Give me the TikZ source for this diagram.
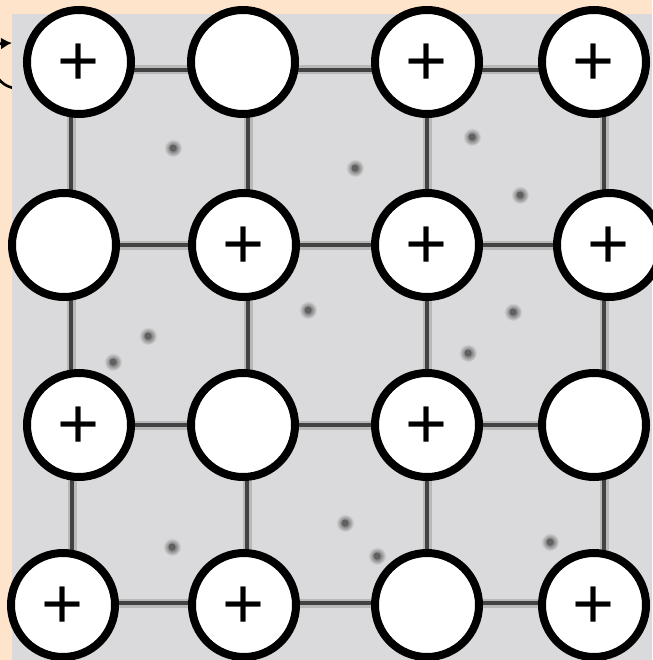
\documentclass[tikz,border=0pt]{standalone}
\usepackage{fontspec}
\newfontfamily\plusfont{Liberation Sans}
\usetikzlibrary{arrows.meta}
\definecolor{peach}{HTML}{FFE4CC}
\definecolor{photo}{HTML}{DADADC}
\pgfdeclarelayer{bg}
\pgfdeclarelayer{lines}
\pgfsetlayers{bg,lines,main}
\newcommand\ionplus{{\plusfont\fontsize{72pt}{72pt}\selectfont\smash{\raisebox{-0.329em}{+}}}}
\begin{document}
\begin{tikzpicture}[x=1pt,y=-1pt,
  site/.style={circle,draw=black,line width=8pt,fill=white,minimum size=104pt,inner sep=0pt},
  gridline/.style={line width=3.5pt,draw=black!74,preaction={draw=black!28,line width=9pt}},
  blob/.style={inner color=black!70,outer color=photo}]
\useasboundingbox (0,0) rectangle (652,660);
% sites
\node[site] (n11) at (79,62)  {\ionplus};
\node[site] (n12) at (243,62) {};
\node[site] (n13) at (427,62) {\ionplus};
\node[site] (n14) at (594,62) {\ionplus};
\node[site] (n21) at (64,245)  {};
\node[site] (n22) at (244,245) {\ionplus};
\node[site] (n23) at (427,245) {\ionplus};
\node[site] (n24) at (609,245) {\ionplus};
\node[site] (n31) at (79,425)  {\ionplus};
\node[site] (n32) at (243,425) {};
\node[site] (n33) at (427,425) {\ionplus};
\node[site] (n34) at (594,425) {};
\node[site] (n41) at (63,605)  {\ionplus};
\node[site] (n42) at (244,605) {\ionplus};
\node[site] (n43) at (427,605) {};
\node[site] (n44) at (594,605) {\ionplus};
\begin{pgfonlayer}{bg}
  \fill[peach] (0,0) rectangle (652,660);
  \draw[line width=2.6pt,-{Latex[length=11pt,width=12pt]}]
    (13,88) .. controls (-13,82) and (-12,44) .. (12,43);
  \fill[photo] (12,14) rectangle (652,660);
  \foreach \x/\y in {173/148,355/168,472/137,520/195,148/336,113/362,308/310,
                     513/312,468/353,345/523,172/547,377/556,550/542}
    {\shade[blob] (\x,\y) circle[radius=9pt];
     \fill[black!62] (\x,\y) circle[radius=3.5pt];}
\end{pgfonlayer}
\begin{pgfonlayer}{lines}
  % horizontal connectors
  \draw[gridline] ([yshift=-8pt]n11.center) -- ([yshift=-8pt]n12.center);
  \draw[gridline] ([yshift=-8pt]n12.center) -- ([yshift=-8pt]n13.center);
  \draw[gridline] ([yshift=-8pt]n13.center) -- ([yshift=-8pt]n14.center);
  \draw[gridline] (n21) -- (n22);
  \draw[gridline] (n22) -- (n23);
  \draw[gridline] (n23) -- (n24);
  \draw[gridline] (n31) -- (n32);
  \draw[gridline] (n32) -- (n33);
  \draw[gridline] (n33) -- (n34);
  \draw[gridline] ([yshift=2pt]n41.center) -- ([yshift=2pt]n42.center);
  \draw[gridline] ([yshift=2pt]n42.center) -- ([yshift=2pt]n43.center);
  \draw[gridline] ([yshift=2pt]n43.center) -- ([yshift=2pt]n44.center);
  % vertical connectors
  \draw[gridline] ([xshift=-8pt]n11.center) -- ([xshift=7pt]n21.center);
  \draw[gridline] ([xshift=7pt]n21.center) -- ([xshift=-8pt]n31.center);
  \draw[gridline] ([xshift=-7pt]n31.center) -- ([xshift=9pt]n41.center);
  \draw[gridline] ([xshift=5pt]n12.center) -- ([xshift=4pt]n22.center);
  \draw[gridline] ([xshift=4pt]n22.center) -- ([xshift=5pt]n32.center);
  \draw[gridline] ([xshift=4pt]n32.center) -- ([xshift=3pt]n42.center);
  \draw[gridline] (n13) -- (n23);
  \draw[gridline] (n23) -- (n33);
  \draw[gridline] (n33) -- (n43);
  \draw[gridline] ([xshift=10pt]n14.center) -- ([xshift=-5pt]n24.center);
  \draw[gridline] ([xshift=-5pt]n24.center) -- ([xshift=10pt]n34.center);
  \draw[gridline] ([xshift=10pt]n34.center) -- ([xshift=10pt]n44.center);
\end{pgfonlayer}
\end{tikzpicture}
\end{document}
